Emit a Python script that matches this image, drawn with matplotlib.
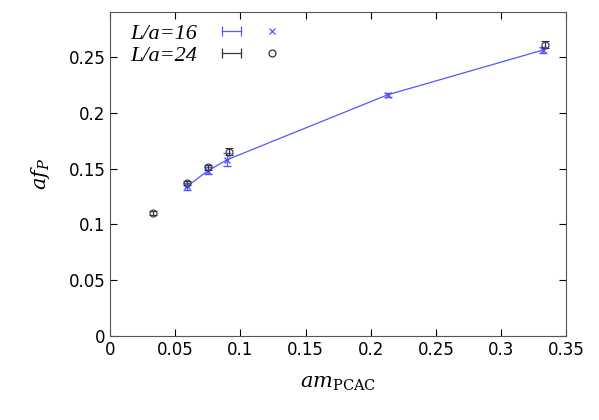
import matplotlib
matplotlib.use("Agg")
import matplotlib.pyplot as plt
from matplotlib.lines import Line2D
from matplotlib.legend_handler import HandlerLine2D, HandlerTuple

plt.rcParams['mathtext.fontset'] = 'dejavuserif'

x16 = [0.059, 0.075, 0.090, 0.213, 0.332]
y16 = [0.134, 0.148, 0.158, 0.216, 0.256]
e16 = [0.003, 0.003, 0.006, 0.002, 0.003]
x24 = [0.033, 0.059, 0.075, 0.091, 0.334]
y24 = [0.110, 0.137, 0.151, 0.165, 0.261]
e24 = [0.002, 0.002, 0.002, 0.003, 0.003]

c16 = '#5555ff'
c24 = '#333333'

fig = plt.figure(figsize=(5.99, 4.2), dpi=100)
ax = fig.add_axes([0.184, 0.2, 0.761, 0.771])
ax.errorbar(x16, y16, yerr=e16, color=c16, marker='x', ms=5, lw=0.9,
            elinewidth=0.9, capsize=3)
ax.errorbar(x24, y24, yerr=e24, color=c24, marker='o', mfc='none', ms=5,
            ls='none', elinewidth=0.9, capsize=3, mew=0.8)
ax.set_xlim(0, 0.35)
ax.set_ylim(0, 0.29)
ax.set_xticks([0, 0.05, 0.1, 0.15, 0.2, 0.25, 0.3, 0.35])
ax.set_xticklabels(['0', '0.05', '0.1', '0.15', '0.2', '0.25', '0.3', '0.35'])
ax.set_yticks([0, 0.05, 0.1, 0.15, 0.2, 0.25])
ax.set_yticklabels(['0', '0.05', '0.1', '0.15', '0.2', '0.25'])
ax.tick_params(direction='in', top=True, right=True, labelsize=12, length=5)
for s in ax.spines.values():
    s.set_color('#555555')
ax.set_xlabel(r'$am_{\rm PCAC}$', fontsize=15, labelpad=10)
ax.set_ylabel(r'$af_P$', fontsize=15, labelpad=12)

def handle(color, marker):
    bar = Line2D([], [], color=color, lw=0.9, marker='|', ms=7, mew=0.9)
    mk = Line2D([], [], color=color, ls='none', marker=marker, ms=5,
                mfc='none', mew=0.9)
    return (bar, mk)

h16 = handle(c16, 'x')
h24 = handle(c24, 'o')
hmap = {h16[0]: HandlerLine2D(numpoints=2), h16[1]: HandlerLine2D(numpoints=1),
        h24[0]: HandlerLine2D(numpoints=2), h24[1]: HandlerLine2D(numpoints=1),
        tuple: HandlerTuple(ndivide=None)}
ax.legend([h16, h24], ['L/a=16', 'L/a=24'], handler_map=hmap,
          loc='upper left', frameon=False, markerfirst=False,
          prop={'family': 'Liberation Serif', 'style': 'italic', 'size': 16},
          handlelength=3.3, borderaxespad=0.1, labelspacing=0.05,
          bbox_to_anchor=(0.02, 1.0))
fig.savefig('out.png', dpi=100)
